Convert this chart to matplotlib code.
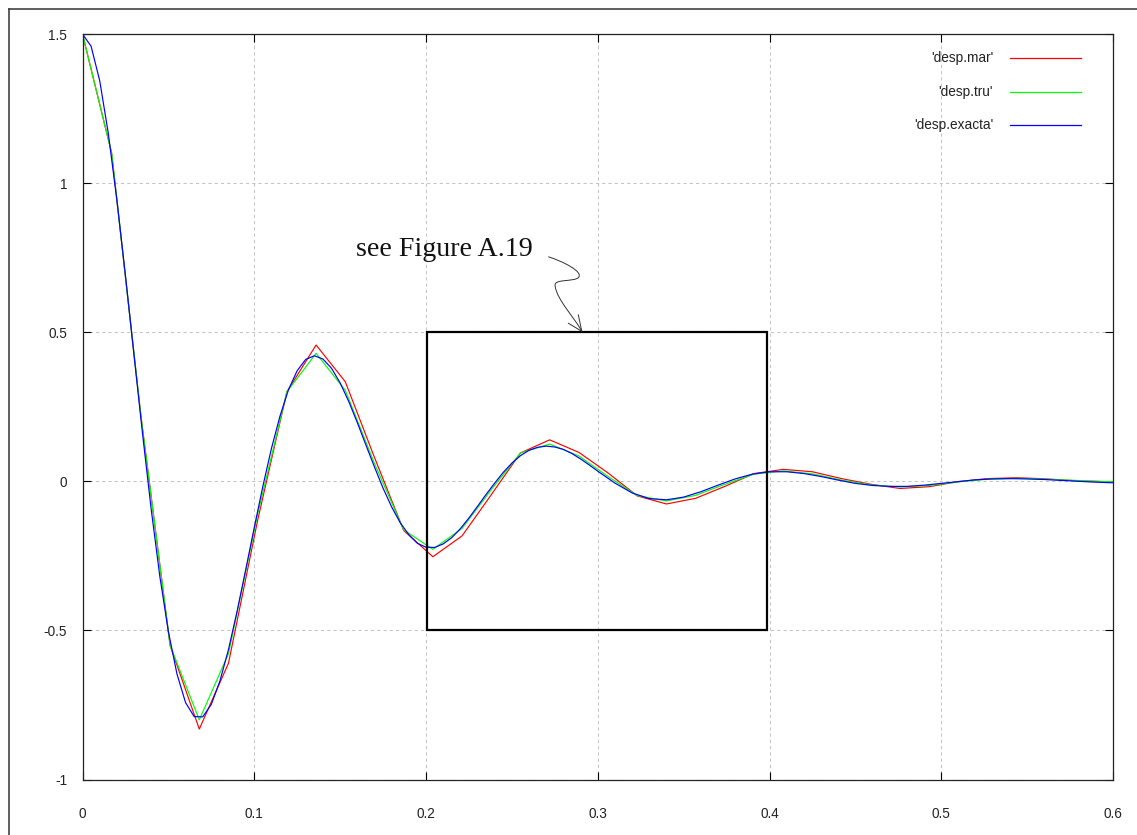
import matplotlib

matplotlib.use("Agg")
import matplotlib.pyplot as plt
from matplotlib.path import Path
from matplotlib.patches import PathPatch, Rectangle
from matplotlib.lines import Line2D

# exact solution
t_exact = [0.000, 0.005, 0.010, 0.015, 0.020, 0.025, 0.030, 0.035, 0.040, 0.045,
           0.050, 0.055, 0.060, 0.065, 0.070, 0.075, 0.080, 0.085, 0.090, 0.095,
           0.100, 0.105, 0.110, 0.115, 0.120, 0.125, 0.130, 0.135, 0.140, 0.145,
           0.150, 0.155, 0.160, 0.165, 0.170, 0.175, 0.180, 0.185, 0.190, 0.195,
           0.200, 0.205, 0.210, 0.215, 0.220, 0.225, 0.230, 0.235, 0.240, 0.245,
           0.250, 0.255, 0.260, 0.265, 0.270, 0.275, 0.280, 0.285, 0.290, 0.295,
           0.300, 0.310, 0.320, 0.330, 0.340, 0.350, 0.360, 0.370, 0.380, 0.390,
           0.400, 0.410, 0.420, 0.430, 0.440, 0.450, 0.460, 0.470, 0.480, 0.490,
           0.500, 0.510, 0.520, 0.530, 0.540, 0.550, 0.560, 0.570, 0.580, 0.590,
           0.600]
desp_exacta = [1.500, 1.459, 1.344, 1.168, 0.944, 0.690, 0.423, 0.157, -0.094, -0.318,
               -0.504, -0.646, -0.742, -0.789, -0.790, -0.748, -0.670, -0.564, -0.436, -0.297,
               -0.155, -0.017, 0.110, 0.219, 0.308, 0.371, 0.409, 0.421, 0.410, 0.379,
               0.330, 0.268, 0.197, 0.122, 0.048, -0.023, -0.086, -0.139, -0.179, -0.208,
               -0.221, -0.222, -0.210, -0.189, -0.159, -0.123, -0.084, -0.044, -0.006, 0.030,
               0.061, 0.086, 0.104, 0.114, 0.118, 0.115, 0.107, 0.093, 0.075, 0.055,
               0.034, -0.006, -0.039, -0.058, -0.062, -0.053, -0.035, -0.013, 0.008, 0.024,
               0.032, 0.032, 0.026, 0.016, 0.004, -0.007, -0.014, -0.017, -0.017, -0.013,
               -0.007, -0.001, 0.005, 0.008, 0.009, 0.008, 0.006, 0.003, 0.000, -0.003,
               -0.005]

# numerical schemes, coarse time step
t_num = [0.000, 0.017, 0.034, 0.051, 0.068, 0.085, 0.102, 0.119, 0.136, 0.153,
         0.170, 0.187, 0.204, 0.221, 0.238, 0.255, 0.272, 0.289, 0.306, 0.323,
         0.340, 0.357, 0.374, 0.391, 0.408, 0.425, 0.442, 0.459, 0.476, 0.493,
         0.510, 0.527, 0.544, 0.561, 0.578, 0.595, 0.612]
desp_mar = [1.500, 1.100, 0.220, -0.550, -0.831, -0.610, -0.130, 0.300, 0.457, 0.334,
            0.080, -0.165, -0.253, -0.183, -0.045, 0.095, 0.139, 0.097, 0.028, -0.049,
            -0.076, -0.057, -0.017, 0.026, 0.040, 0.032, 0.009, -0.010, -0.024, -0.018,
            -0.001, 0.009, 0.012, 0.008, 0.002, -0.001, -0.003]
desp_tru = [1.500, 1.100, 0.220, -0.550, -0.800, -0.578, -0.110, 0.300, 0.429, 0.305,
            0.060, -0.163, -0.228, -0.158, -0.028, 0.095, 0.125, 0.085, 0.016, -0.048,
            -0.066, -0.047, -0.010, 0.024, 0.035, 0.025, 0.004, -0.012, -0.019, -0.014,
            -0.002, 0.007, 0.010, 0.007, 0.003, -0.001, -0.002]

series = [("'desp.mar'", t_num, desp_mar, "#ff0000"),
          ("'desp.tru'", t_num, desp_tru, "#00ff00"),
          ("'desp.exacta'", t_exact, desp_exacta, "#0000ff")]

x_ticks = [0, 0.1, 0.2, 0.3, 0.4, 0.5, 0.6]
x_labels = ["0", "0.1", "0.2", "0.3", "0.4", "0.5", "0.6"]
y_ticks = [-1, -0.5, 0, 0.5, 1, 1.5]
y_labels = ["-1", "-0.5", "0", "0.5", "1", "1.5"]

plt.rcParams["font.family"] = ["Liberation Sans", "DejaVu Sans"]
W, H = 1137, 835
fig = plt.figure(figsize=(W / 100, H / 100), dpi=100)
ax = fig.add_axes([82.5 / W, (H - 779.5) / H, 1030.5 / W, 745.5 / H])

# outer window frame
fig.add_artist(Line2D([8.5 / W, 8.5 / W], [0, 1 - 8.5 / H], color="#333333", lw=1.1))
fig.add_artist(Line2D([8.5 / W, 1], [1 - 8.5 / H, 1 - 8.5 / H], color="#333333", lw=1.1))

for name, t, y, c in series:
    ax.plot(t, y, color=c, lw=0.85)

ax.set_xlim(0, 0.6)
ax.set_ylim(-1, 1.5)
ax.set_xticks(x_ticks)
ax.set_xticklabels(x_labels)
ax.set_yticks(y_ticks)
ax.set_yticklabels(y_labels)
ax.tick_params(direction="in", length=6, width=0.8, top=True, right=True,
               labelsize=9.8, labelcolor="#222222")
ax.tick_params(axis="x", pad=20)
ax.tick_params(axis="y", pad=11)
ax.grid(True, color="#c4c4c4", lw=0.75, linestyle=(0, (3, 3)))
for s in ax.spines.values():
    s.set_linewidth(0.9)
    s.set_color("#222222")

# zoom box
ax.add_patch(Rectangle((0.2006, -0.497), 0.198, 0.997, fill=False, ec="black", lw=1.6, zorder=5))

# annotation
ax.text(0.1593, 0.755, "see Figure A.19", family=["Liberation Serif", "DejaVu Serif"],
        fontsize=20.2, color="#111111", ha="left", va="baseline")
verts = [(0.2712, 0.753),
         (0.2800, 0.737), (0.2920, 0.702), (0.2887, 0.683),
         (0.2860, 0.668), (0.2740, 0.680), (0.2752, 0.655),
         (0.2760, 0.610), (0.2870, 0.545), (0.2907, 0.503)]
codes = [Path.MOVETO] + [Path.CURVE4] * 9
ax.add_patch(PathPatch(Path(verts, codes), fill=False, ec="#333333", lw=0.7, zorder=6))
ax.plot([0.2829, 0.2907, 0.2887], [0.530, 0.503, 0.558], color="#333333", lw=0.7, zorder=6)

# legend (gnuplot style, text left of sample)
rows = [0.9682, 0.9222, 0.8773]
for (name, t, y, c), ry in zip(series, rows):
    ax.text(0.8836, ry, name, transform=ax.transAxes, ha="right", va="center",
            fontsize=9.8, color="#222222")
    ax.add_line(Line2D([0.900, 0.969], [ry, ry], transform=ax.transAxes, color=c, lw=0.9))

fig.savefig("out.png", dpi=100)
